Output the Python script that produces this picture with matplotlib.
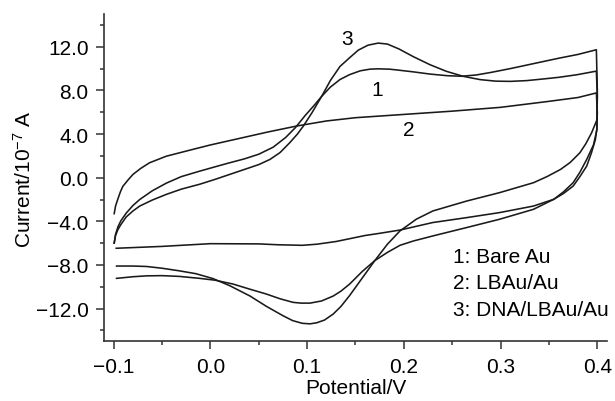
import matplotlib
matplotlib.use('Agg')
import matplotlib.pyplot as plt
from matplotlib.ticker import MultipleLocator, FuncFormatter

plt.rcParams['font.family'] = ['Liberation Sans', 'DejaVu Sans']
plt.rcParams['mathtext.default'] = 'regular'

# 1: Bare Au  (forward scan, then reverse scan)
bare_x = [-0.0994, -0.098, -0.0955, -0.0925, -0.087, -0.080, -0.073, -0.060, -0.0455, -0.030,
          -0.011, 0.005, 0.02, 0.035, 0.05, 0.065, 0.078, 0.088, 0.098, 0.107,
          0.115, 0.124, 0.134, 0.144, 0.155, 0.165, 0.1735, 0.185, 0.1925, 0.21,
          0.227, 0.245, 0.26, 0.275, 0.29, 0.31, 0.33, 0.36, 0.38, 0.399,
          0.4, 0.3996, 0.396, 0.389, 0.382, 0.375, 0.365, 0.355, 0.334, 0.299,
          0.265, 0.23, 0.21, 0.196, 0.183, 0.17, 0.157, 0.144, 0.135, 0.127,
          0.115, 0.103, 0.094, 0.0855, 0.072, 0.058, 0.04, 0.0234, 0.005, -0.011,
          -0.032, -0.05, -0.066, -0.08, -0.097]
bare_y = [-6.0, -5.2, -4.5, -3.95, -3.25, -2.55, -2.0, -1.2, -0.5, 0.1,
          0.6, 1.0, 1.37, 1.72, 2.15, 2.8, 3.7, 4.6, 5.7, 6.6,
          7.45, 8.3, 9.0, 9.45, 9.8, 9.95, 9.98, 9.95, 9.88, 9.7,
          9.5, 9.35, 9.3, 9.42, 9.65, 10.0, 10.38, 10.95, 11.3, 11.73,
          8.0, 4.4, 3.0, 1.67, 0.5, -0.46, -1.3, -1.98, -2.9, -3.81,
          -4.57, -5.34, -5.8, -6.2, -6.85, -7.6, -8.6, -9.75, -10.4, -10.85,
          -11.3, -11.5, -11.5, -11.43, -11.1, -10.67, -10.2, -9.75, -9.4, -9.23,
          -9.05, -8.98, -9.0, -9.08, -9.23]

# 2: LBAu/Au
lb_x = [-0.0994, -0.098, -0.0957, -0.093, -0.0905, -0.085, -0.08, -0.072, -0.0628, -0.0455,
        -0.0214, 0.0, 0.03, 0.06, 0.09, 0.12, 0.15, 0.2, 0.25, 0.3,
        0.35, 0.38, 0.399,
        0.4, 0.3995, 0.398, 0.394, 0.389, 0.382, 0.375, 0.365, 0.355, 0.334,
        0.299, 0.265, 0.23, 0.196, 0.175, 0.16, 0.13, 0.11, 0.095, 0.07,
        0.05, 0.0, -0.05, -0.0973]
lb_y = [-3.3, -2.6, -1.98, -1.3, -0.8, -0.2, 0.3, 0.85, 1.37, 1.97,
        2.52, 3.0, 3.6, 4.2, 4.75, 5.2, 5.5, 5.8, 6.1, 6.45,
        7.0, 7.35, 7.77,
        6.0, 4.5, 3.5, 2.3, 1.06, 0.1, -0.77, -1.45, -1.98, -2.6,
        -3.2, -3.66, -4.11, -4.8, -5.1, -5.3, -5.85, -6.1, -6.2, -6.15,
        -6.07, -6.05, -6.3, -6.47]

# 3: DNA/LBAu/Au
dna_x = [-0.0994, -0.098, -0.0955, -0.0925, -0.087, -0.080, -0.073, -0.060, -0.0455, -0.030,
         -0.011, 0.005, 0.02, 0.035, 0.05, 0.0615, 0.072, 0.082, 0.09, 0.096,
         0.105, 0.115, 0.124, 0.134, 0.144, 0.153, 0.163, 0.1735, 0.183, 0.195,
         0.2097, 0.227, 0.244, 0.2615, 0.279, 0.295, 0.31, 0.327, 0.344, 0.36,
         0.379, 0.399,
         0.4, 0.3996, 0.394, 0.388, 0.382, 0.372, 0.362, 0.348, 0.334, 0.299,
         0.265, 0.23, 0.213, 0.196, 0.183, 0.17, 0.157, 0.144, 0.135, 0.127,
         0.118, 0.11, 0.103, 0.095, 0.085, 0.075, 0.058, 0.041, 0.02, 0.0027,
         -0.015, -0.032, -0.05, -0.066, -0.08, -0.097]
dna_y = [-6.0, -5.3, -4.75, -4.3, -3.6, -3.05, -2.6, -2.05, -1.53, -1.05,
         -0.6, -0.15, 0.3, 0.75, 1.2, 1.67, 2.3, 3.2, 4.0, 4.72,
         5.95, 7.45, 8.9, 10.2, 11.0, 11.7, 12.15, 12.34, 12.25, 11.8,
         11.1, 10.36, 9.75, 9.29, 8.99, 8.85, 8.83, 8.9, 9.05, 9.2,
         9.44, 9.77,
         7.5, 5.3, 4.1, 3.1, 2.29, 1.4, 0.76, 0.1, -0.46, -1.37,
         -2.14, -3.05, -3.8, -4.88, -6.1, -7.6, -9.2, -10.8, -11.8, -12.5,
         -13.05, -13.3, -13.4, -13.35, -13.1, -12.65, -11.8, -10.85, -9.9, -9.25,
         -8.8, -8.54, -8.3, -8.14, -8.1, -8.1]

curve_tags = ['1', '2', '3']
tag_pos = [(0.172, 8.1), (0.205, 4.4), (0.141, 12.8)]
legend_lines = ['1: Bare Au', '2: LBAu/Au', '3: DNA/LBAu/Au']

fig = plt.figure(figsize=(6.15, 4.02), dpi=100)
ax = fig.add_axes([0.169, 0.1485, 0.818, 0.814])

for xs, ys in [(bare_x, bare_y), (lb_x, lb_y), (dna_x, dna_y)]:
    ax.plot(xs, ys, color='#1a1a1a', lw=1.15)

for tag, (tx, ty) in zip(curve_tags, tag_pos):
    ax.text(tx, ty, tag, fontsize=15, ha='center', va='center')

for i, s in enumerate(legend_lines):
    ax.text(0.251, -7.2 - 2.45 * i, s, fontsize=15, ha='left', va='center')

ax.set_xlim(-0.11, 0.41)
ax.set_ylim(-15, 15)
ax.xaxis.set_major_locator(MultipleLocator(0.1))
ax.xaxis.set_minor_locator(MultipleLocator(0.05))
ax.yaxis.set_major_locator(MultipleLocator(4))
ax.yaxis.set_minor_locator(MultipleLocator(2))

def fmt(v, pos):
    s = '%.1f' % abs(v)
    if v < -1e-9:
        s = '\u2212' + s
    return s

ax.xaxis.set_major_formatter(FuncFormatter(fmt))
ax.yaxis.set_major_formatter(FuncFormatter(fmt))

for side in ['top', 'right']:
    ax.spines[side].set_visible(False)
for side in ['left', 'bottom']:
    ax.spines[side].set_linewidth(1.2)
    ax.spines[side].set_color('#333333')

ax.tick_params(which='major', direction='out', length=6, width=1.1, labelsize=15,
               color='#333333', pad=5)
ax.tick_params(which='minor', direction='out', length=3, width=1.1, color='#333333')

ax.set_xlabel('Potential/V', fontsize=15, labelpad=2)
ax.set_ylabel('Current/10$^{-7}$ A', fontsize=15, labelpad=1)

fig.savefig('out.png', dpi=100)
